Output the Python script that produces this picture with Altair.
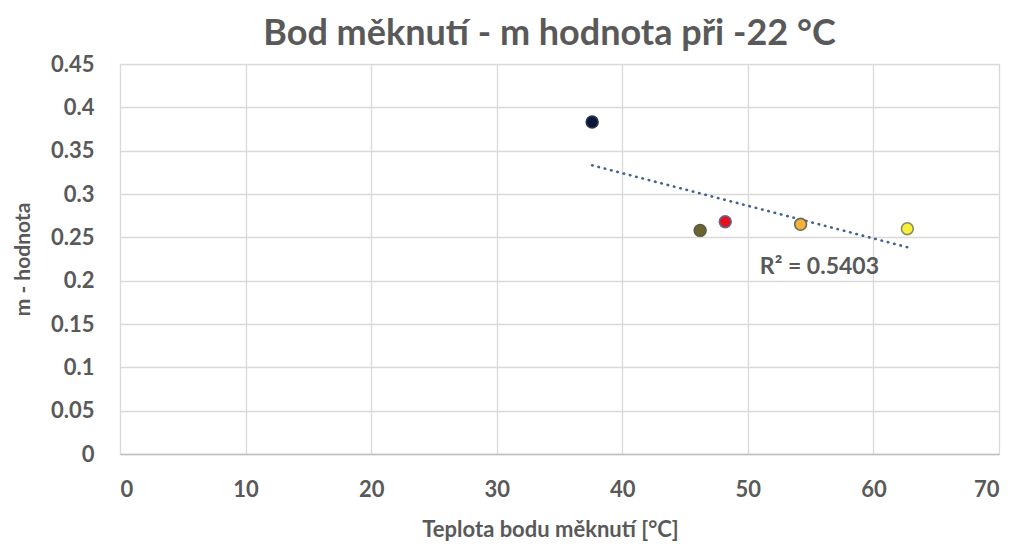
import altair as alt
import pandas as pd

# Data
temps = [37.6, 46.2, 48.2, 54.2, 62.7]
m_values = [0.383, 0.258, 0.268, 0.265, 0.260]
sample_ids = ["A", "B", "C", "D", "E"]
fill_colors = ["#0B1538", "#6B6430", "#E8101E", "#F3B23A", "#F7F03A"]
stroke_colors = ["#2A3450", "#5A5A45", "#5A6A90", "#6A6A5A", "#8A8A60"]

x_ticks = [0, 10, 20, 30, 40, 50, 60, 70]
y_ticks = [0, 0.05, 0.1, 0.15, 0.2, 0.25, 0.3, 0.35, 0.4, 0.45]

r2_text = ["R² = 0.5403"]
r2_x = [55.7]
r2_y = [0.2162]

title_text = "Bod měknutí - m hodnota při -22 °C"
x_title = "Teplota bodu měknutí [°C]"
y_title = "m - hodnota"

df = pd.DataFrame({"t": temps, "m": m_values, "id": sample_ids})
ann = pd.DataFrame({"t": r2_x, "m": r2_y, "label": r2_text})

FONT = "Lato"
GREY = "#595959"

x_scale = alt.Scale(domain=[0, 70], nice=False, zero=True)
y_scale = alt.Scale(domain=[0, 0.45], nice=False, zero=True)

x_axis = alt.Axis(
    values=x_ticks, title=x_title, grid=True, gridColor="#D9D9D9", gridWidth=1.3,
    domainColor="#BFBFBF", domainWidth=1.3, ticks=False, labelPadding=25,
    labelFont=FONT, labelFontSize=22, labelFontWeight="bold", labelColor=GREY,
    titleFont=FONT, titleFontSize=22, titleFontWeight="bold", titleColor=GREY,
    titleX=430, titleY=75, titleBaseline="middle", titleAnchor="middle",
)
y_axis = alt.Axis(
    values=y_ticks, title=y_title, format=".2~f", grid=True, gridColor="#D9D9D9",
    gridWidth=1.3, domain=False, ticks=False, labelPadding=26,
    labelFont=FONT, labelFontSize=22, labelFontWeight="bold", labelColor=GREY,
    titleFont=FONT, titleFontSize=21, titleFontWeight="bold", titleColor=GREY,
    titleX=-97, titleY=195, titleBaseline="middle", titleAnchor="middle",
)

base = alt.Chart(df)

points = base.mark_point(filled=True, size=140, opacity=1, strokeWidth=1.6).encode(
    x=alt.X("t:Q", scale=x_scale, axis=x_axis),
    y=alt.Y("m:Q", scale=y_scale, axis=y_axis),
    fill=alt.Fill("id:N", scale=alt.Scale(domain=sample_ids, range=fill_colors), legend=None),
    stroke=alt.Stroke("id:N", scale=alt.Scale(domain=sample_ids, range=stroke_colors), legend=None),
)

# Exponential trend (ordinary least squares on ln(m), as a spreadsheet does)
trend = (
    base.transform_calculate(lm="log(datum.m)")
    .transform_regression("t", "lm", method="linear")
    .transform_calculate(m="exp(datum.lm)")
    .mark_line(color="#44628F", strokeWidth=2.6, strokeDash=[0.5, 6], strokeCap="round")
    .encode(
        x=alt.X("t:Q", scale=x_scale),
        y=alt.Y("m:Q", scale=y_scale),
    )
)

label = alt.Chart(ann).mark_text(
    font=FONT, fontSize=23, fontWeight="bold", color=GREY, align="center", baseline="middle"
).encode(
    x=alt.X("t:Q", scale=x_scale),
    y=alt.Y("m:Q", scale=y_scale),
    text="label:N",
)

chart = alt.layer(trend, points, label).properties(
    width=879,
    height=390,
    title=alt.TitleParams(
        text=title_text, font=FONT, fontSize=36, fontWeight="bold", color=GREY,
        anchor="middle", dx=-10, offset=0,
    ),
    autosize=alt.AutoSizeParams(type="none"),
    padding={"left": 112, "top": 56, "right": 12, "bottom": 90},
).configure_view(stroke=None).configure(background="white")

chart.save("out.html", embed_options={"renderer": "svg", "actions": False})
